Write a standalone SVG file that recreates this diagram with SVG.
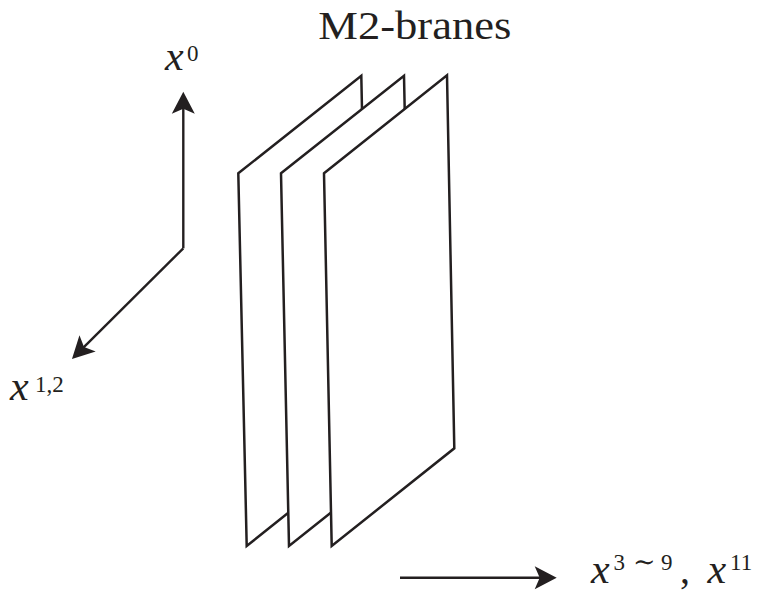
<svg xmlns="http://www.w3.org/2000/svg" width="761" height="594" viewBox="0 0 761 594">
<style>
.plane{fill:#fff;stroke:#231f20;stroke-width:2.5;stroke-linejoin:miter}
.axis{fill:none;stroke:#231f20;stroke-width:2.4}
.lbl{font-family:"Liberation Serif","Times New Roman",serif;fill:#231f20}
.it{font-style:italic;font-size:42px}
.sup{font-size:23px}
.tl{font-family:"DejaVu Serif",serif;font-size:27px}
</style>
<defs>
<marker id="arr" markerUnits="userSpaceOnUse" viewBox="-9 -13 26 26" markerWidth="26" markerHeight="26" refX="0" refY="0" orient="auto">
<path d="M15,0 L-7,-11.5 L-2,0 L-7,11.5 z" fill="#231f20"/>
</marker>
</defs>
<rect width="761" height="594" fill="#fff"/>
<g id="connectors">
<line class="axis" x1="183.3" y1="248.3" x2="183.3" y2="106.7" marker-end="url(#arr)"/>
<line class="axis" x1="183.3" y1="248.3" x2="82.6" y2="348.4" marker-end="url(#arr)"/>
<line class="axis" x1="400" y1="577.7" x2="541.7" y2="577.7" marker-end="url(#arr)"/>
</g>
<g id="plane1"><path class="plane" d="M238.3,173.3 L361.3,75.7 L369,448.3 L246.7,546 Z"/></g>
<g id="plane2"><path class="plane" d="M281,173.3 L404,75.7 L411.7,448.3 L289,546 Z"/></g>
<g id="plane3"><path class="plane" d="M324,173.3 L447,75.3 L454.3,448.3 L331.7,546 Z"/></g>
<g id="title"><text class="lbl" x="318.3" y="39.3" font-size="39" textLength="193" lengthAdjust="spacingAndGlyphs">M2-branes</text></g>
<g id="label-x0"><text class="lbl"><tspan class="it" x="165" y="70">x</tspan><tspan class="sup" x="187" y="61">0</tspan></text></g>
<g id="label-x12"><text class="lbl"><tspan class="it" x="10" y="400">x</tspan><tspan class="sup" x="35" y="392">1,2</tspan></text></g>
<g id="label-x3"><text class="lbl"><tspan class="it" x="591" y="583">x</tspan><tspan class="sup" x="613.5" y="570">3</tspan><tspan class="tl" x="633" y="571">∼</tspan><tspan class="sup" x="661" y="570">9</tspan><tspan font-size="40px" x="680" y="583">,</tspan><tspan class="it" x="707.5" y="583">x</tspan><tspan class="sup" x="730" y="570">11</tspan></text></g>
</svg>
